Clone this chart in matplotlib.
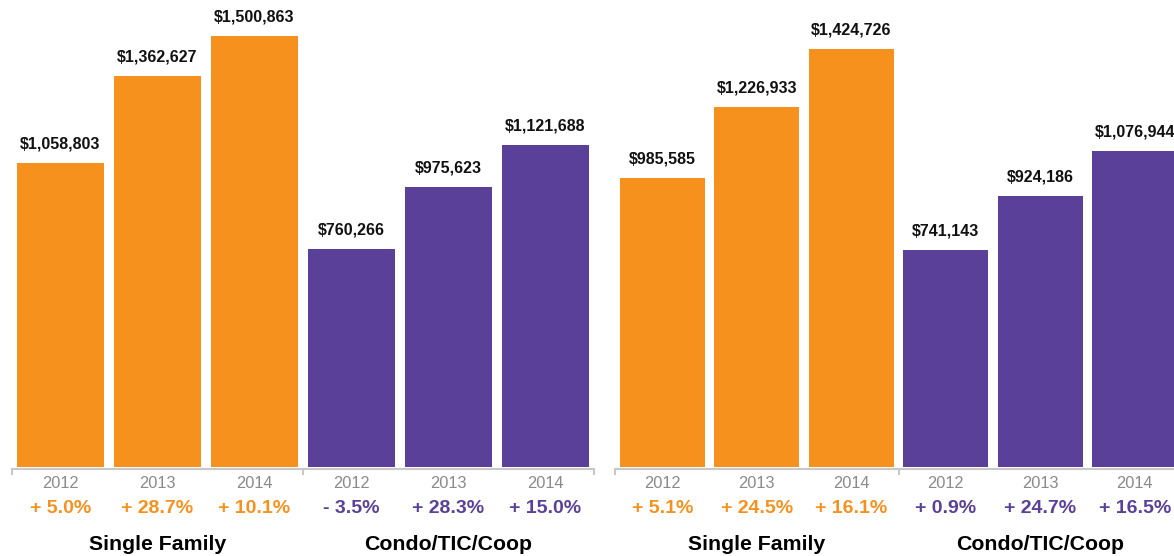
import matplotlib
matplotlib.use('Agg')
from matplotlib import pyplot as plt

plt.rcParams['font.family'] = ['Liberation Sans', 'DejaVu Sans']

years = ['2012', '2013', '2014']
groups = ['Single Family', 'Condo/TIC/Coop']

# left panel
left_sf = [1058803, 1362627, 1500863]
left_condo = [760266, 975623, 1121688]
left_sf_chg = [5.0, 28.7, 10.1]
left_condo_chg = [-3.5, 28.3, 15.0]

# right panel
right_sf = [985585, 1226933, 1424726]
right_condo = [741143, 924186, 1076944]
right_sf_chg = [5.1, 24.5, 16.1]
right_condo_chg = [0.9, 24.7, 16.5]

orange = '#F7911E'
purple = '#5A4099'
grey_line = '#C8C8C8'

W, H = 1174, 556
fig = plt.figure(figsize=(W / 100, H / 100), dpi=100)


def fmt_chg(v):
    return ('+ ' if v >= 0 else '- ') + '%.1f%%' % abs(v)


def panel(x0, width, ytop, sf, condo, sf_chg, condo_chg):
    base = 467
    ax = fig.add_axes([x0 / W, (H - base) / H, width / W, base / H])
    vals = sf + condo
    chg = sf_chg + condo_chg
    cols = [orange] * 3 + [purple] * 3
    xs = list(range(6))
    ax.bar(xs, vals, width=0.9, color=cols)
    ax.set_xlim(-0.5, 5.5)
    ax.set_ylim(0, ytop)
    for x, v, c, col in zip(xs, vals, chg, cols):
        ax.annotate('${:,}'.format(v), (x, v), xytext=(0, 10.5), textcoords='offset points',
                    ha='center', va='baseline', fontsize=11.5, fontweight='bold', color='#111111')
        ax.annotate(fmt_chg(c), (x, 0), xycoords=('data', 'axes fraction'), xytext=(0, -33),
                    textcoords='offset points', ha='center', va='baseline',
                    fontsize=14, fontweight='bold', color=col, annotation_clip=False)
    for g, xc in zip(groups, [1, 4]):
        ax.annotate(g, (xc, 0), xycoords=('data', 'axes fraction'), xytext=(0, -59.5),
                    textcoords='offset points', ha='center', va='baseline',
                    fontsize=15.3, fontweight='bold', color='black', annotation_clip=False)
    for s in ['top', 'right', 'left']:
        ax.spines[s].set_visible(False)
    ax.spines['bottom'].set_position(('outward', 1.2))
    ax.spines['bottom'].set_color(grey_line)
    ax.spines['bottom'].set_linewidth(1.5)
    ax.set_yticks([])
    ax.set_xticks(xs)
    ax.set_xticklabels(years * 2, fontsize=11.8, color='#8A8A8A')
    ax.tick_params(axis='x', which='major', length=0, pad=5.5)
    ax.set_xticks([-0.5, 2.5, 5.5], minor=True)
    ax.tick_params(axis='x', which='minor', length=4, width=1.5, color=grey_line, direction='out')
    return ax


panel(12, 582, 467 * 3482, left_sf, left_condo, left_sf_chg, left_condo_chg)
panel(615, 567, 467 * 3410, right_sf, right_condo, right_sf_chg, right_condo_chg)

fig.savefig('out.png', dpi=100)
